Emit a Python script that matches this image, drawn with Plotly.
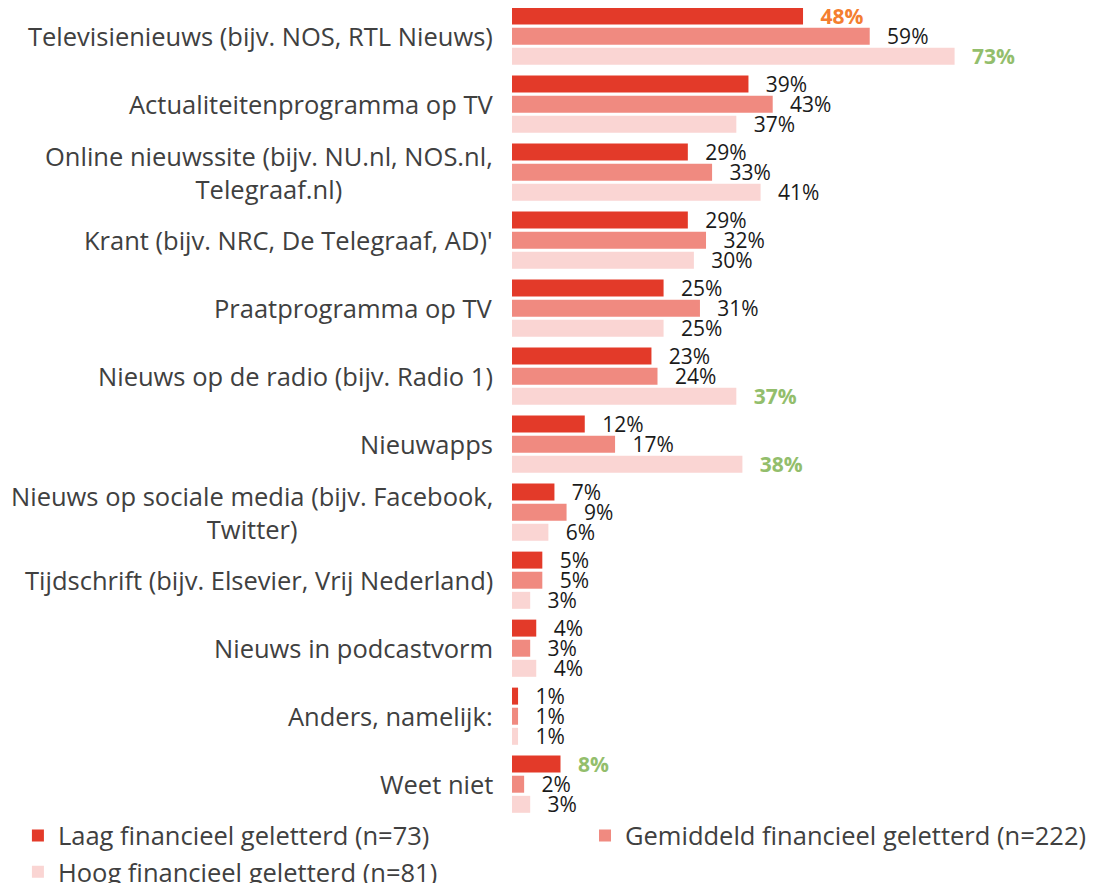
import plotly.graph_objects as go

categories = [
    "Televisienieuws (bijv. NOS, RTL Nieuws)",
    "Actualiteitenprogramma op TV",
    "Online nieuwssite (bijv. NU.nl, NOS.nl,<br>Telegraaf.nl)",
    "Krant (bijv. NRC, De Telegraaf, AD)'",
    "Praatprogramma op TV",
    "Nieuws op de radio (bijv. Radio 1)",
    "Nieuwapps",
    "Nieuws op sociale media (bijv. Facebook,<br>Twitter)",
    "Tijdschrift (bijv. Elsevier, Vrij Nederland)",
    "Nieuws in podcastvorm",
    "Anders, namelijk:",
    "Weet niet",
]
laag = [48, 39, 29, 29, 25, 23, 12, 7, 5, 4, 1, 8]
gemiddeld = [59, 43, 33, 32, 31, 24, 17, 9, 5, 3, 1, 2]
hoog = [73, 37, 41, 30, 25, 37, 38, 6, 3, 4, 1, 3]

series_names = [
    "Laag financieel geletterd (n=73)",
    "Gemiddeld financieel geletterd (n=222)",
    "Hoog financieel geletterd (n=81)",
]
# highlighted labels (orange = lower than average, green = higher)
highlight = {
    (0, 0): "#F47E30",
    (2, 0): "#93BE6C",
    (2, 5): "#93BE6C",
    (2, 6): "#93BE6C",
    (0, 11): "#93BE6C",
}

colors = ["#E33A29", "#F08A80", "#FAD5D3"]
legends = ["legend", "legend2", "legend"]
ykeys = [f"c{i}" for i in range(len(categories))]
FONT = "Open Sans"
PAD = "\u00a0\u00a0\u2009"

fig = go.Figure()
for s, (name, vals) in enumerate(zip(series_names, [laag, gemiddeld, hoog])):
    texts, tcolors = [], []
    for i, v in enumerate(vals):
        c = highlight.get((s, i))
        if c:
            texts.append(f"{PAD}<b>{v}%</b>")
            tcolors.append(c)
        else:
            texts.append(f"{PAD}{v}%")
            tcolors.append("#1a1a1a")
    fig.add_trace(go.Bar(
        y=ykeys, x=vals, orientation="h", name=name,
        marker=dict(color=colors[s], line=dict(width=0)),
        text=texts, textposition="outside", constraintext="none",
        textfont=dict(color=tcolors, size=21, family=FONT),
        cliponaxis=False, legend=legends[s], legendgroup=f"g{s}",
    ))

# category labels (centered multi-line, right aligned block)
for i, cat in enumerate(categories):
    fig.add_annotation(
        xref="paper", yref="y", x=-0.029, y=ykeys[i],
        text=cat, showarrow=False, xanchor="right", align="center",
        font=dict(size=25.5, color="#404040", family=FONT),
    )

legend_style = dict(
    orientation="v", traceorder="normal", yanchor="top", xanchor="left",
    font=dict(size=25.5, color="#404040", family=FONT),
    itemwidth=30, tracegroupgap=0, bgcolor="rgba(0,0,0,0)",
)

fig.update_layout(
    width=1110, height=883,
    margin=dict(l=504, r=10, t=0, b=70, autoexpand=False),
    barmode="group", bargap=0.113, bargroupgap=0.155,
    plot_bgcolor="white", paper_bgcolor="white",
    font=dict(family=FONT, size=21, color="#404040"),
    showlegend=True,
    legend=dict(x=-0.829, y=0.0105, **legend_style),
    legend2=dict(x=0.1225, y=0.0105, **legend_style),
)
fig.update_xaxes(range=[0, 98.3], visible=False)
fig.update_yaxes(range=[11.541, -0.415], showticklabels=False, showgrid=False,
                 zeroline=False, showline=False, ticks="")

fig.write_html("out.html")
